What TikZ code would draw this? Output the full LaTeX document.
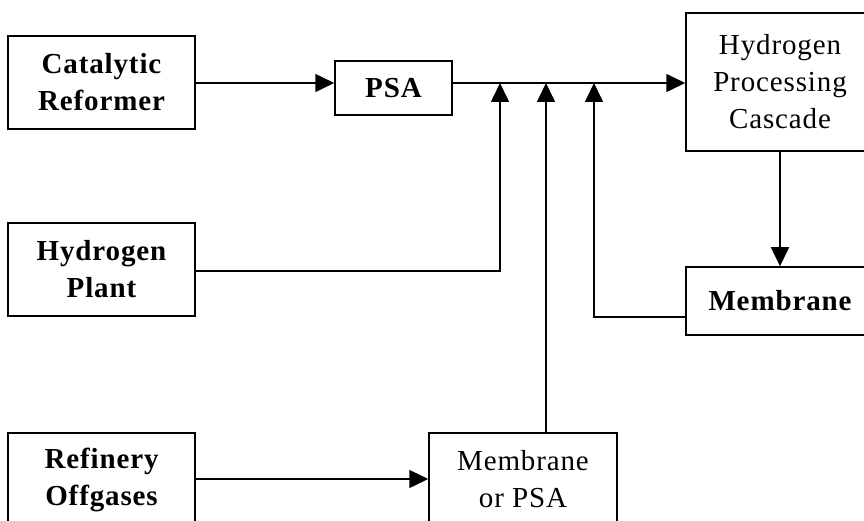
\documentclass[tikz,border=0pt]{standalone}
\usepackage{fontspec}
\setmainfont{Liberation Serif}[LetterSpace=3]
\usetikzlibrary{arrows.meta}
\begin{document}
\begin{tikzpicture}[x=1pt,y=-1pt,
  box/.style={draw,line width=1.5pt,inner sep=0pt,align=center,
    font=\fontsize{29}{37}\selectfont\bfseries},
  thinbox/.style={box,font=\fontsize{29}{37}\selectfont},
  flow/.style={line width=1.5pt,-{Triangle[length=19pt,width=18pt]}},
  pipe/.style={line width=1.5pt}]
\useasboundingbox (0,0) rectangle (864,521);
\clip (0,0) rectangle (864,521);
\fill[white] (0,0) rectangle (864,521);
\node[box,minimum width=187pt,minimum height=93pt] (cr) at (101.5,82.5) {Catalytic\\Reformer};
\node[box,minimum width=117pt,minimum height=54pt] (psa) at (393.5,88) {PSA};
\node[thinbox,minimum width=188pt,minimum height=138pt] (hpc) at (780,82) {Hydrogen\\Processing\\Cascade};
\node[box,minimum width=187pt,minimum height=93pt] (hp) at (101.5,269.5) {Hydrogen\\Plant};
\node[box,minimum width=188pt,minimum height=68pt] (mem) at (780,301) {Membrane};
\node[box,minimum width=187pt,minimum height=93pt] (ro) at (101.5,479.5) {Refinery\\Offgases};
\node[thinbox,minimum width=188pt,minimum height=93pt] (mop) at (523,479.5) {Membrane\\or PSA};
\coordinate (main) at (0,83);
\coordinate (j1) at (500,83);
\coordinate (j2) at (546,83);
\coordinate (j3) at (594,83);
\draw[flow] (cr.east |- main) -- (psa.west |- main);
\draw[flow] (psa.east |- main) -- (hpc.west |- main);
\draw[flow] (hp.east |- 0,271) -| (j1);
\draw[flow] (mop.north -| j2) -- (j2);
\draw[flow] (mem.west |- 0,317) -| (j3);
\draw[flow] (hpc.south) -- (mem.north);
\draw[flow] (ro.east |- 0,479) -- (mop.west |- 0,479);
\end{tikzpicture}
\end{document}
